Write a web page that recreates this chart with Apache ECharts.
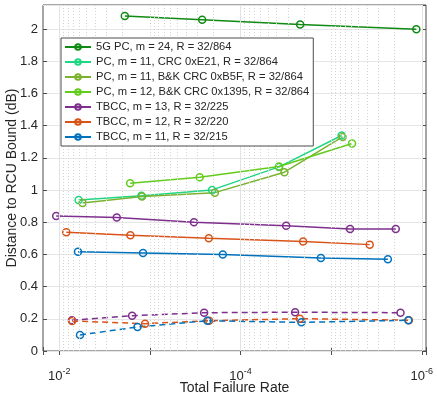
<!DOCTYPE html>
<html>
<head>
<meta charset="utf-8">
<script src="https://cdn.jsdelivr.net/npm/echarts@6/dist/echarts.min.js"></script>
<style>
html, body { margin: 0; padding: 0; background: #fff; }
#main { width: 437px; height: 394px; }
</style>
</head>
<body>
<div id="main"></div>
<script>
// values (x = total failure rate, y = dB)
var pc5gX = [1.89e-3, 2.65e-4, 2.2e-5, 1.15e-6];
var pc5gY = [2.081, 2.058, 2.029, 1.999];
var pcE21X = [6.11e-3, 1.24e-3, 2.06e-4, 3.76e-5, 7.67e-6];
var pcE21Y = [0.939, 0.964, 1.001, 1.144, 1.339];
var pcB5FX = [5.52e-3, 1.22e-3, 1.92e-4, 3.28e-5, 7.5e-6];
var pcB5FY = [0.919, 0.960, 0.984, 1.111, 1.330];
var pc1395X = [1.65e-3, 2.82e-4, 3.76e-5, 5.89e-6];
var pc1395Y = [1.043, 1.080, 1.146, 1.289];
var tb13X = [1.08e-2, 2.32e-3, 3.26e-4, 3.14e-5, 6.19e-6, 1.94e-6];
var tb13Y = [0.839, 0.829, 0.800, 0.779, 0.758, 0.758];
var tb12X = [8.36e-3, 1.64e-3, 2.24e-4, 2.04e-5, 3.76e-6];
var tb12Y = [0.738, 0.719, 0.700, 0.680, 0.661];
var tb11X = [6.21e-3, 1.19e-3, 1.57e-4, 1.30e-5, 2.37e-6];
var tb11Y = [0.617, 0.609, 0.599, 0.578, 0.570];
// dashed curves (no legend entry)
var tb13dX = [7.24e-3, 1.57e-3, 2.52e-4, 2.50e-5, 1.72e-6];
var tb13dY = [0.191, 0.219, 0.238, 0.241, 0.238];
var tb12dX = [7.2e-3, 1.13e-3, 2.22e-4, 2.22e-5, 1.39e-6];
var tb12dY = [0.187, 0.170, 0.188, 0.201, 0.191];
var tb11dX = [5.9e-3, 1.37e-3, 2.32e-4, 2.13e-5, 1.41e-6];
var tb11dY = [0.100, 0.149, 0.188, 0.178, 0.191];

var legendNames = [
  '5G PC, m = 24, R = 32/864',
  'PC, m = 11, CRC 0xE21, R = 32/864',
  'PC, m = 11, B&K CRC 0xB5F, R = 32/864',
  'PC, m = 12, B&K CRC 0x1395, R = 32/864',
  'TBCC, m = 13, R = 32/225',
  'TBCC, m = 12, R = 32/220',
  'TBCC, m = 11, R = 32/215'
];
var xMin = 9.0e-7, xMax = 0.0151;
var yMax = 2.15;
var font = '"Liberation Sans", Arial, sans-serif';
var ink = '#262626';

function pairs(xs, ys) {
  return xs.map(function (x, i) { return [x, ys[i]]; });
}

function line(name, color, xs, ys, dashed) {
  return {
    name: name,
    type: 'line',
    data: pairs(xs, ys),
    symbol: 'circle',
    symbolSize: 7,
    showAllSymbol: true,
    z: 3,
    lineStyle: { color: color, width: 1.5, type: dashed ? [6, 4] : 'solid' },
    itemStyle: { color: 'rgba(255,255,255,0)', borderColor: color, borderWidth: 1.5 },
    emphasis: { disabled: true },
    animation: false
  };
}

// vertical grid: solid at labelled decades, dotted for the rest
var majorStyle = { color: '#e2e2e2', width: 1, type: 'solid' };
var minorStyle = { color: '#d4d4d4', width: 1, type: [1, 2] };
var gridX = [];
function vline(v, st) {
  gridX.push([{ coord: [v, 0], lineStyle: st }, { coord: [v, yMax] }]);
}
[1e-2, 1e-4, 1e-6].forEach(function (v) { vline(v, majorStyle); });
[1e-3, 1e-5].forEach(function (v) { vline(v, minorStyle); });
for (var e = -3; e >= -7; e--) {
  for (var m = 2; m <= 9; m++) {
    var v = m * Math.pow(10, e);
    if (v > xMin * 1.01 && v < xMax) vline(v, minorStyle);
  }
}

var series = [
  line(legendNames[0], '#0f8a12', pc5gX, pc5gY),
  line(legendNames[1], '#1fd682', pcE21X, pcE21Y),
  line(legendNames[2], '#79b22e', pcB5FX, pcB5FY),
  line(legendNames[3], '#62cc1c', pc1395X, pc1395Y),
  line(legendNames[4], '#7e2f8e', tb13X, tb13Y),
  line(legendNames[5], '#d95319', tb12X, tb12Y),
  line(legendNames[6], '#0072bd', tb11X, tb11Y),
  line('tb13 dashed', '#7e2f8e', tb13dX, tb13dY, true),
  line('tb12 dashed', '#d95319', tb12dX, tb12dY, true),
  line('tb11 dashed', '#0072bd', tb11dX, tb11dY, true)
];
// carrier for the grid lines
series.push({
  name: 'grid', type: 'line', data: [], z: 1, silent: true, animation: false,
  markLine: {
    silent: true, symbol: ['none', 'none'], animation: false,
    label: { show: false }, emphasis: { disabled: true },
    data: gridX
  }
});

var myChart = echarts.init(document.getElementById('main'), null, { renderer: 'canvas' });
myChart.setOption({
  backgroundColor: '#fff',
  textStyle: { fontFamily: font },
  grid: {
    left: 43, right: 11, top: 5, bottom: 43, outerBoundsMode: 'none', containLabel: false,
    show: true, borderColor: '#4d4d4d', borderWidth: 1, backgroundColor: 'transparent'
  },
  legend: {
    data: legendNames,
    orient: 'vertical',
    left: 61, top: 38, z: 20,
    padding: [3, 4, 3, 3],
    itemWidth: 26, itemHeight: 7, itemGap: 3,
    backgroundColor: '#fff',
    borderColor: '#4d4d4d', borderWidth: 1,
    textStyle: { fontFamily: font, fontSize: 11.2, color: ink, lineHeight: 12 },
    selectedMode: false
  },
  xAxis: [{
    type: 'log', logBase: 10, inverse: true, min: xMin, max: xMax,
    name: 'Total Failure Rate', nameLocation: 'middle', nameGap: 30, nameMoveOverlap: false,
    nameTextStyle: { fontFamily: font, fontSize: 14, color: ink },
    axisLine: { show: false },
    axisTick: { inside: true, length: 4, lineStyle: { color: '#4d4d4d' } },
    splitLine: { show: false },
    axisLabel: {
      margin: 16, color: ink,
      formatter: function (val) {
        var lg = Math.log10(val), ex = Math.round(lg);
        if (Math.abs(lg - ex) > 0.01 || ex % 2 !== 0) return '';
        return '{b|10}{s|' + ex + '}';
      },
      rich: {
        b: { fontFamily: font, fontSize: 13, color: ink, lineHeight: 18 },
        s: { fontFamily: font, fontSize: 9, color: ink, verticalAlign: 'top', lineHeight: 10 }
      }
    }
  }, {
    type: 'log', logBase: 10, inverse: true, min: xMin, max: xMax, position: 'top',
    axisLine: { show: false }, axisLabel: { show: false }, splitLine: { show: false },
    axisTick: { inside: true, length: 4, lineStyle: { color: '#4d4d4d' } }
  }],
  yAxis: [{
    type: 'value', min: 0, max: yMax, interval: 0.2,
    name: 'Distance to RCU Bound (dB)', nameLocation: 'middle', nameGap: 24, nameMoveOverlap: false,
    nameTextStyle: { fontFamily: font, fontSize: 14, color: ink },
    axisLine: { show: false },
    axisTick: { inside: true, length: 4, lineStyle: { color: '#4d4d4d' } },
    axisLabel: { showMaxLabel: false, margin: 5, fontFamily: font, fontSize: 13, color: ink },
    splitLine: { lineStyle: { color: '#e6e6e6', width: 1 } }
  }, {
    type: 'value', min: 0, max: yMax, interval: 0.2, position: 'right',
    axisLine: { show: false }, axisLabel: { show: false }, splitLine: { show: false },
    axisTick: { inside: true, length: 4, lineStyle: { color: '#4d4d4d' } }
  }],
  series: series
});
</script>
</body>
</html>
